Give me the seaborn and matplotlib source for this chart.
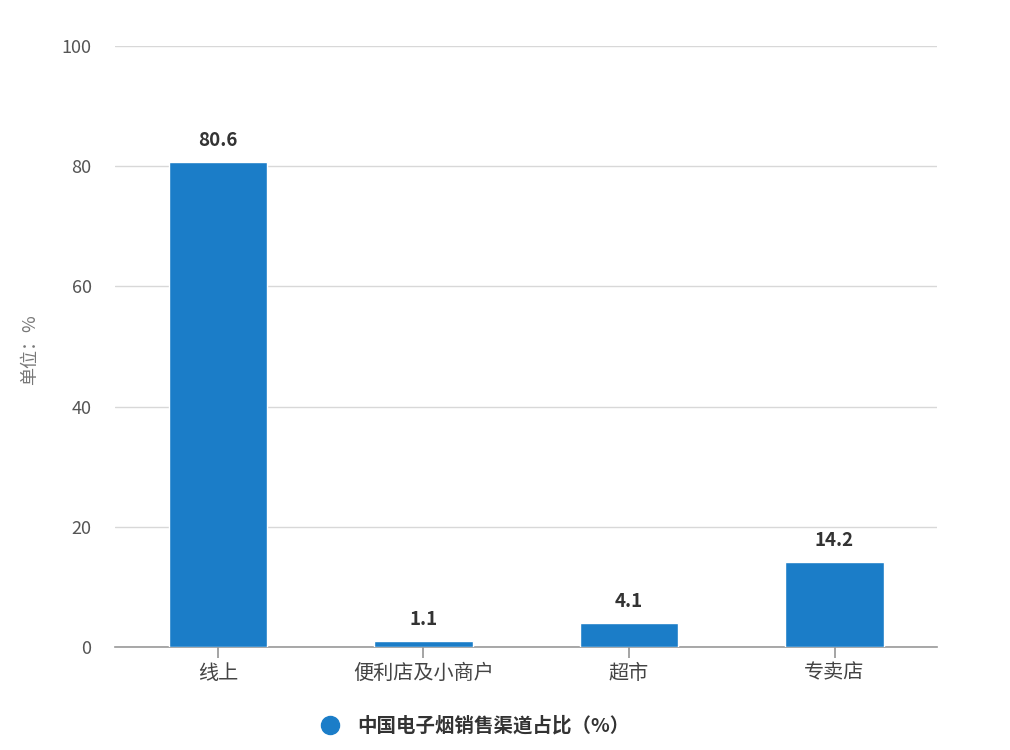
import matplotlib
matplotlib.use("Agg")
import matplotlib.pyplot as plt
import seaborn as sns
import pandas as pd
from matplotlib.lines import Line2D

channels = ["线上", "便利店及小商户", "超市", "专卖店"]
shares = [80.6, 1.1, 4.1, 14.2]
series_name = "中国电子烟销售渠道占比（%）"

sns.set_theme(style="white")
plt.rcParams['font.family'] = ['Noto Sans CJK SC', 'DejaVu Sans']

df = pd.DataFrame({"channel": channels, "share": shares})

fig = plt.figure(figsize=(10.1, 7.5), dpi=100)
ax = fig.add_axes([0.114, 0.137, 0.814, 0.802])

bar_color = "#1b7dc8"
sns.barplot(data=df, x="channel", y="share", color=bar_color, width=0.48,
            saturation=1, ax=ax, zorder=3)

for i, v in enumerate(shares):
    ax.text(i, v + 2.0, f"{v}", ha="center", va="bottom", fontsize=13.5,
            fontweight="bold", color="#333333")

ax.set_ylim(0, 100)
ax.set_yticks([0, 20, 40, 60, 80, 100])
ax.set_xlim(-0.5, 3.5)
ax.yaxis.grid(True, color="#d8d8d8", linewidth=1, zorder=0)
for s in ["top", "right", "left"]:
    ax.spines[s].set_visible(False)
ax.spines["bottom"].set_color("#999999")
ax.spines["bottom"].set_linewidth(1.2)
ax.tick_params(axis="x", bottom=True, length=8, color="#999999", labelsize=14.5,
               labelcolor="#444444", pad=3)
ax.tick_params(axis="y", left=False, labelsize=13, labelcolor="#555555", pad=11)
ax.set_xlabel("")
ax.set_ylabel("")
fig.text(30 / 1010, 1 - 350 / 750, "单位：%", rotation=90, ha="center", va="center",
         fontsize=13, color="#777777")

handle = Line2D([0], [0], marker="o", color="none", markerfacecolor=bar_color,
                markeredgecolor=bar_color, markersize=13)
fig.legend([handle], [series_name], loc="center", bbox_to_anchor=(0.465, 0.032),
           frameon=False, prop={"size": 14, "weight": "bold"}, handletextpad=0.4,
           labelcolor="#333333")

fig.savefig("out.png", dpi=100, facecolor="white")
